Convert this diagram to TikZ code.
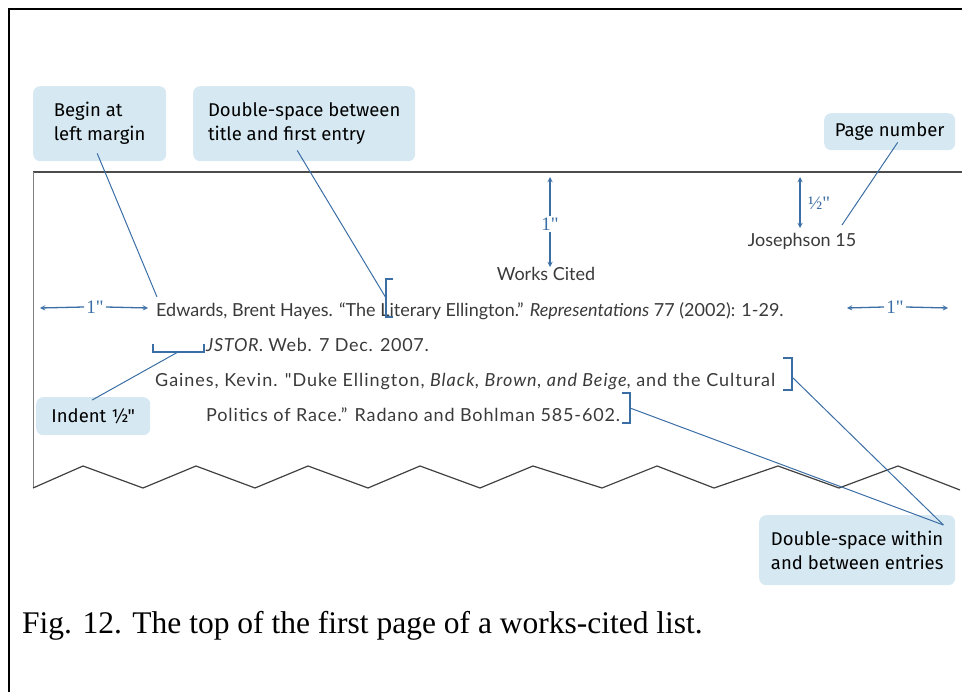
\documentclass[tikz,border=0pt]{standalone}
\usepackage{fontspec}
\setmainfont{Liberation Serif}
\newfontfamily\pagefont{Lato}
\newfontfamily\notefont{Fira Sans}
\newfontfamily\dimfont{Liberation Serif}
\usepackage{tikz}
\usetikzlibrary{%
	calc,%
	arrows%
}
\definecolor{notefill}{HTML}{D6E8F2}
\definecolor{noteline}{HTML}{3B6EA5}
\definecolor{inkgray}{HTML}{3A3A3A}
\tikzset{
	callout/.style={fill=notefill, rounded corners=7pt, anchor=north west,
		font=\notefont\fontsize{18.5}{24}\selectfont, align=left, inner sep=0pt},
	leader/.style={noteline, line width=1pt},
	bracket/.style={noteline, line width=1.2pt},
	dim/.style={noteline, line width=1.3pt, -stealth},
	dimlabel/.style={noteline, font=\dimfont\fontsize{19}{19}\selectfont, inner sep=2pt},
	pagetext/.style={inkgray, font=\pagefont\fontsize{18}{20}\selectfont, inner sep=0pt},
	widetext/.style={pagetext, font=\pagefont\fontsize{18}{20}\selectfont\addfontfeature{LetterSpace=#1}}
}

\begin{document}
\begin{tikzpicture}[x=1pt,y=-1pt]
			\useasboundingbox (0,0) rectangle (962,692);
			% Outer frame
			\draw[line width=2pt] (9,692) -- (9,9) -- (962,9);
			
			% Page edges
			\draw[gray!60!black, line width=1.6pt] (33,172) -- (962,172);
			\draw[gray, line width=0.8pt] (33,172) -- (33,488);
			\draw[black!75, line width=1.2pt] (33,488) -- (83,466) -- (143,488) -- (196,466)
				-- (255,488) -- (308,466) -- (368,488) -- (420,466) -- (480,488)
				-- (533,466) -- (602,488) -- (657,466) -- (714,488) -- (778,466)
				-- (839,488) -- (898,466) -- (960,490);
			
			% Page text
			\node[pagetext, anchor=base] (wc) at (546,281) {Works Cited};
			\node[pagetext, anchor=base] (jos) at (802,247) {Josephson 15};
			\node[pagetext, anchor=base west] (edw) at (156,317)
				{Edwards, Brent Hayes. “The Literary Ellington.” \textit{Representations} 77 (2002): 1-29.};
			\node[widetext=4, anchor=base west] (jstor) at (206,352)
				{\textit{JSTOR}. Web. 7 Dec. 2007.};
			\node[widetext=5.3, anchor=base west] (gai) at (155,387)
				{Gaines, Kevin. "Duke Ellington, \textit{Black, Brown, and Beige}, and the Cultural};
			\node[widetext=4.8, anchor=base west] (pol) at (206,422)
				{Politics of Race.” Radano and Bohlman 585-602.};
			
			% Margins
			\node[dimlabel] (lm) at (95,307) {1"};
			\coordinate (lmin) at (40,308);
			\coordinate (lmout) at (148,308);
			\draw[dim] (lm.west) -- (lmin);
			\draw[dim] (lm.east) -- (lmout);
			\node[dimlabel] (rm) at (895,307) {1"};
			\coordinate (rmin) at (847,308);
			\coordinate (rmout) at (948,308);
			\draw[dim] (rm.west) -- (rmin);
			\draw[dim] (rm.east) -- (rmout);
			\node[dimlabel] (tm) at (550,224) {1"};
			\coordinate (tmtop) at (550,177);
			\coordinate (tmbot) at (550,267);
			\draw[dim] (tm.north) -- (tmtop);
			\draw[dim] (tm.south) -- (tmbot);
			\coordinate (hmtop) at (800,177);
			\coordinate (hmbot) at (800,228);
			\draw[dim, stealth-stealth] (hmtop) -- (hmbot);
			\node[dimlabel, anchor=west] (hm) at (806,203) {½"};
			
			% Brackets
			\draw[bracket] (393,279) -- (386,279) -- (386,317) -- (393,317);
			\coordinate (dsb) at (386,298);
			\draw[bracket] (153,344) -- (153,352) -- (204,352) -- (204,344);
			\coordinate (ind) at (178,352);
			\draw[bracket] (783,358) -- (792,358) -- (792,390) -- (783,390);
			\coordinate (dw1) at (792,377);
			\draw[bracket] (622,393) -- (630,393) -- (630,423) -- (622,423);
			\coordinate (dw2) at (630,408);
			
			% Callouts
			\node[callout, minimum width=133pt, minimum height=75pt] (begin) at (33,86)
				{Begin at\\left margin};
			\node[callout, minimum width=222pt, minimum height=75pt] (between) at (193,86)
				{Double-space between\\title and first entry};
			\node[callout, minimum width=131pt, minimum height=37pt] (pnum) at (824,113)
				{Page number};
			\node[callout, minimum width=114pt, minimum height=38pt] (indent) at (36,397)
				{Indent ½"};
			\node[callout, minimum width=196pt, minimum height=70pt] (within) at (759,515)
				{Double-space within\\and between entries};
			
			% Leaders
			\coordinate (edwtop) at (157,297);
			\coordinate (jostop) at (842,225);
			\draw[leader] ([shift={(-2.5,-8)}]begin.south) -- (edwtop);
			\draw[leader] ([shift={(-7,-11)}]between.south) -- (dsb);
			\draw[leader] ([shift={(8,-8)}]pnum.south) -- (jostop);
			\draw[leader] ([shift={(-1,3)}]indent.north) -- (ind);
			\draw[leader] ([shift={(-12,10)}]within.north east) -- (dw1);
			\draw[leader] ([shift={(-12,10)}]within.north east) -- (dw2);
			
			% Caption
			\node[anchor=base west, font=\fontsize{31.5}{33}\selectfont, inner sep=0pt] (cap) at (22,633)
				{Fig. 12. The top of the first page of a works-cited list.};
		\end{tikzpicture}
\end{document}
